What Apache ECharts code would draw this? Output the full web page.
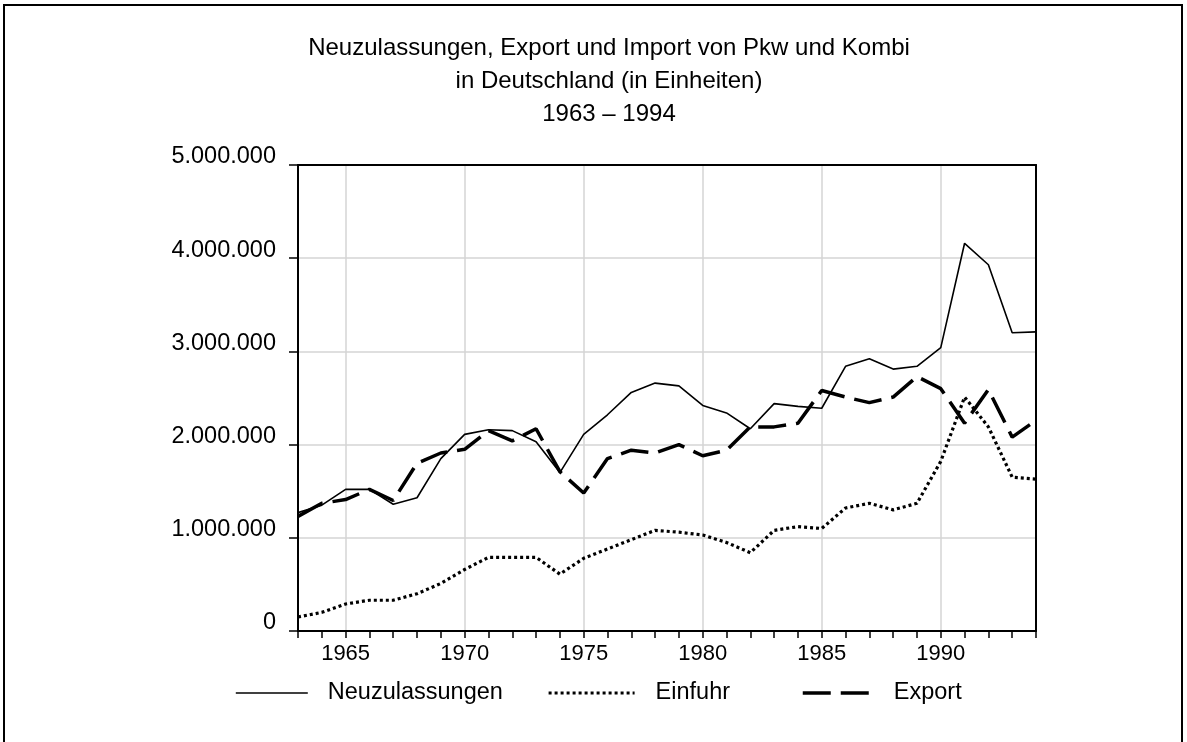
<!DOCTYPE html>
<html>
<head>
<meta charset="utf-8">
<script src="https://cdn.jsdelivr.net/npm/echarts@6/dist/echarts.min.js"></script>
<style>
html, body { margin: 0; padding: 0; background: #fff; }
#main { width: 1187px; height: 742px; }
</style>
</head>
<body>
<div id="main"></div>
<script>
var years = [];
for (var y = 1963; y <= 1994; y++) years.push(String(y));

var neuzulassungen = [1270000, 1350000, 1520000, 1520000, 1360000, 1430000, 1850000, 2110000,
    2160000, 2150000, 2030000, 1700000, 2110000, 2320000, 2560000, 2660000, 2630000, 2420000,
    2340000, 2170000, 2440000, 2410000, 2390000, 2840000, 2920000, 2810000, 2840000, 3040000,
    4160000, 3930000, 3200000, 3210000];
var einfuhr = [150000, 200000, 290000, 330000, 330000, 400000, 510000, 660000,
    790000, 790000, 790000, 610000, 780000, 880000, 980000, 1080000, 1060000, 1030000,
    950000, 840000, 1080000, 1120000, 1100000, 1320000, 1370000, 1300000, 1370000, 1820000,
    2510000, 2190000, 1650000, 1630000];
var exportData = [1230000, 1370000, 1410000, 1520000, 1400000, 1800000, 1910000, 1950000,
    2150000, 2040000, 2170000, 1710000, 1480000, 1850000, 1940000, 1910000, 2000000, 1880000,
    1940000, 2190000, 2190000, 2230000, 2580000, 2510000, 2450000, 2510000, 2730000, 2600000,
    2230000, 2590000, 2080000, 2260000];

var font = 'Liberation Sans, Arial, sans-serif';

function fmt(v) {
    return String(v).replace(/\B(?=(\d{3})+(?!\d))/g, '.');
}
function every5(i, v) {
    return Number(v) % 5 === 0;
}
function legendOf(name, left, width, pad, lineStyle) {
    return {
        data: [name],
        left: left, top: 676,
        itemWidth: width, itemHeight: 22,
        itemStyle: { opacity: 0 },
        lineStyle: lineStyle,
        textStyle: { fontFamily: font, fontSize: 23.5, color: '#000', padding: [0, 0, 0, pad] }
    };
}

var myChart = echarts.init(document.getElementById('main'));
option = {
    backgroundColor: '#fff',
    animation: false,
    title: {
        text: 'Neuzulassungen, Export und Import von Pkw und Kombi\nin Deutschland (in Einheiten)\n1963 – 1994',
        left: 604,
        top: 27,
        textAlign: 'center',
        textStyle: {
            fontFamily: font,
            fontSize: 24,
            fontWeight: 'normal',
            color: '#000',
            lineHeight: 33
        }
    },
    graphic: [{
        type: 'rect',
        shape: { x: 4, y: 5, width: 1178, height: 760 },
        style: { fill: null, stroke: '#000', lineWidth: 2 },
        silent: true
    }],
    legend: [
        legendOf('Neuzulassungen', 230, 72, 15, { color: '#000', width: 1.6, type: 'solid' }),
        legendOf('Einfuhr', 542, 86, 16, { color: '#000', width: 3.2, type: [3, 3] }),
        legendOf('Export', 796, 67, 19, { color: '#000', width: 3.5, type: [28, 10] })
    ],
    grid: {
        left: 298,
        right: 151,
        top: 165,
        bottom: 111
    },
    xAxis: [
        {
            type: 'category',
            data: years,
            boundaryGap: false,
            axisLine: { lineStyle: { color: '#000', width: 2 } },
            axisTick: { show: true, interval: 0, length: 7, lineStyle: { color: '#000', width: 1.5 } },
            axisLabel: {
                interval: every5,
                margin: 12,
                fontFamily: font,
                fontSize: 22,
                color: '#000'
            },
            splitLine: { show: true, interval: every5, lineStyle: { color: '#d4d4d4', width: 1.5 } }
        },
        {
            type: 'category',
            data: years,
            boundaryGap: false,
            position: 'top',
            axisLine: { show: true, onZero: false, lineStyle: { color: '#000', width: 2 } },
            axisTick: { show: false },
            axisLabel: { show: false },
            splitLine: { show: false }
        }
    ],
    yAxis: [
        {
            type: 'value',
            min: 0,
            max: 5000000,
            interval: 1000000,
            axisLine: { show: true, lineStyle: { color: '#000', width: 2 } },
            axisTick: { show: true, length: 9, lineStyle: { color: '#000', width: 1.5 } },
            axisLabel: {
                formatter: fmt,
                margin: 22,
                verticalAlign: 'bottom',
                lineHeight: 16,
                fontFamily: font,
                fontSize: 23.5,
                color: '#000'
            },
            splitLine: { show: true, lineStyle: { color: '#d4d4d4', width: 1.5 } }
        },
        {
            type: 'value',
            min: 0,
            max: 5000000,
            interval: 1000000,
            position: 'right',
            axisLine: { show: true, onZero: false, lineStyle: { color: '#000', width: 2 } },
            axisTick: { show: false },
            axisLabel: { show: false },
            splitLine: { show: false }
        }
    ],
    series: [
        {
            name: 'Neuzulassungen',
            type: 'line',
            data: neuzulassungen,
            symbol: 'none',
            color: '#000',
            lineStyle: { color: '#000', width: 1.6 }
        },
        {
            name: 'Einfuhr',
            type: 'line',
            data: einfuhr,
            symbol: 'none',
            color: '#000',
            lineStyle: { color: '#000', width: 3.2, type: [3, 3] }
        },
        {
            name: 'Export',
            type: 'line',
            data: exportData,
            symbol: 'none',
            color: '#000',
            lineStyle: { color: '#000', width: 3.5, type: [28, 10] }
        }
    ]
};
myChart.setOption(option);
</script>
</body>
</html>
